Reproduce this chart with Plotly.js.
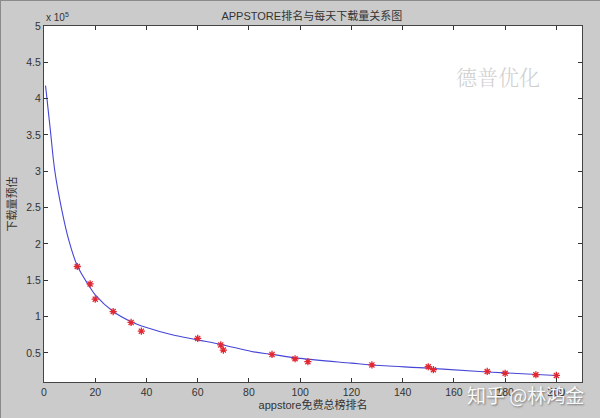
<!DOCTYPE html>
<html>
<head>
<meta charset="utf-8">
<script src="https://cdn.plot.ly/plotly-3.0.1.min.js"></script>
<style>
html,body{margin:0;padding:0;background:#cbcbcb;}
#chart{width:600px;height:418px;box-sizing:border-box;border:1px solid #8a8a8a;}
</style>
</head>
<body>
<div id="chart"></div>
<script>
// Observed data points (rank, estimated daily downloads)
const rankPoints = [13, 18, 20, 27, 34, 38, 60, 69, 70, 89, 98, 103, 128, 150, 152, 173, 180, 192, 200];
const downloadPoints = [169000, 145000, 124000, 107000, 92000, 80000, 70000, 61000, 54000, 48000, 42000, 38000, 33500, 31000, 27000, 24500, 22000, 20000, 19000];

// Fitted curve
const curveRank = [0.6, 2.5, 4.2, 7, 9.7, 13, 18, 20, 27, 34, 40, 50, 60, 70, 81, 89, 100, 120, 128, 150, 170, 180, 200];
const curveDownloads = [418000, 356000, 301000, 246000, 205000, 170000, 140000, 130000, 107000, 93000, 85000, 75000, 68000, 61000, 52000, 48000, 42500, 36000, 33500, 29000, 24500, 22500, 19000];

// Axis ticks
const xTicks = [0, 20, 40, 60, 80, 100, 120, 140, 160, 180, 200];
const yTickVals = [50000, 100000, 150000, 200000, 250000, 300000, 350000, 400000, 450000, 500000];
const yTickText = ['0.5', '1', '1.5', '2', '2.5', '3', '3.5', '4', '4.5', '5'];

const traces = [
  {
    x: curveRank, y: curveDownloads, type: 'scatter', mode: 'lines',
    line: {color: 'rgb(70,70,215)', width: 1.1, shape: 'spline', smoothing: 1.0},
    hoverinfo: 'skip', showlegend: false
  },
  {
    x: rankPoints, y: downloadPoints, type: 'scatter', mode: 'markers',
    marker: {symbol: 'asterisk-open', size: 6, color: 'rgb(225,40,50)', line: {color: 'rgb(225,40,50)', width: 1.3}},
    showlegend: false
  }
];

const tickFont = {family: 'Liberation Sans, Arial, sans-serif', size: 10.5, color: '#333'};
const cjk = 'Liberation Sans, Noto Sans CJK SC, sans-serif';

const layout = {
  width: 600, height: 418,
  paper_bgcolor: '#cbcbcb', plot_bgcolor: '#ffffff',
  margin: {l: 43, r: 19, t: 25, b: 37},
  showlegend: false,
  title: {text: 'APPSTORE排名与每天下载量关系图', font: {family: cjk, size: 11, color: '#333'}, x: 0.518, xanchor: 'center', y: 0.963, yanchor: 'middle'},
  xaxis: {
    range: [0, 210], tickvals: xTicks, ticktext: xTicks.map(String),
    ticks: 'inside', ticklen: 4, tickcolor: '#333', mirror: 'allticks',
    showline: true, linecolor: '#444', linewidth: 1, showgrid: false, zeroline: false,
    tickfont: tickFont,
    title: {text: 'appstore免费总榜排名', font: {family: cjk, size: 11, color: '#333'}, standoff: 3}
  },
  yaxis: {
    range: [10000, 500000], tickvals: yTickVals, ticktext: yTickText,
    ticks: 'inside', ticklen: 4, tickcolor: '#333', mirror: 'allticks',
    showline: true, linecolor: '#444', linewidth: 1, showgrid: false, zeroline: false,
    tickfont: tickFont,
    title: {text: '下载量预估', font: {family: cjk, size: 11, color: '#333'}, standoff: 7}
  },
  annotations: [
    {text: 'x 10<sup>5</sup>', xref: 'paper', yref: 'paper', x: 0.0, y: 1.0, xanchor: 'left', yanchor: 'bottom', yshift: 1, showarrow: false, font: {family: 'Liberation Sans, Arial, sans-serif', size: 10, color: '#333'}},
    {text: '德普优化', xref: 'paper', yref: 'paper', x: 0.925, y: 0.86, xanchor: 'right', yanchor: 'middle', showarrow: false, font: {family: 'Noto Serif CJK SC, Noto Sans CJK SC, serif', size: 21, color: '#cfcfcf', weight: 300}},
    {text: '知乎 @林鸿金', xref: 'paper', yref: 'paper', x: 1.0, y: -0.035, xanchor: 'right', yanchor: 'middle', xshift: 4, showarrow: false, font: {family: 'Noto Sans CJK SC, sans-serif', size: 19, color: 'rgba(255,255,255,0.95)', shadow: '1px 1px 2px rgba(0,0,0,0.45)'}}
  ]
};

Plotly.newPlot('chart', traces, layout, {displayModeBar: false, staticPlot: true});
</script>
</body>
</html>
